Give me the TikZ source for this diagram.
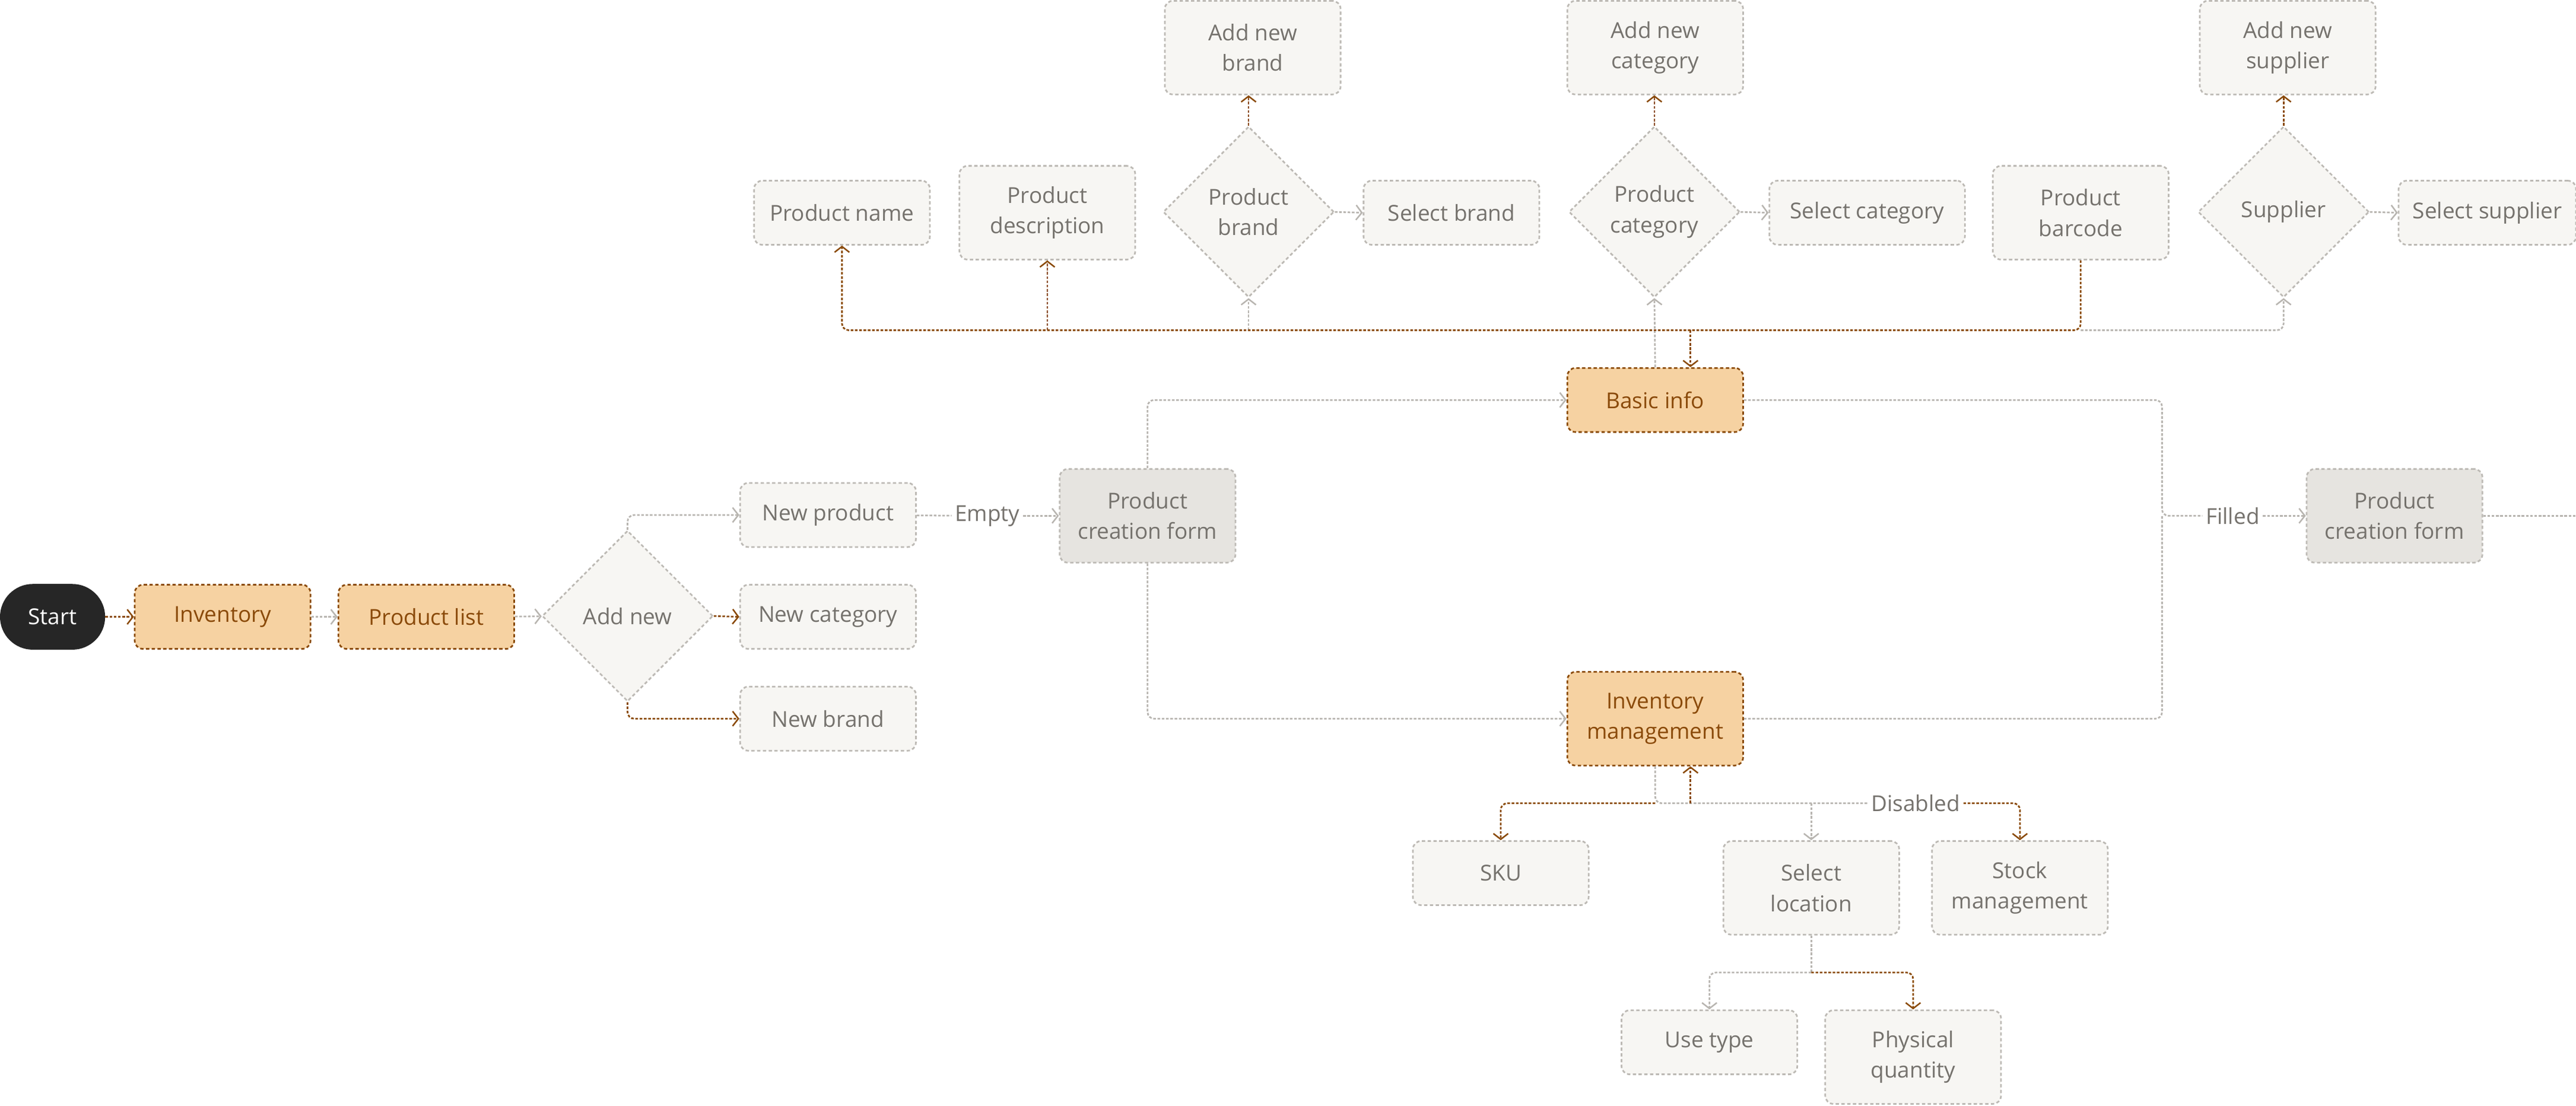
\documentclass[tikz,border=0pt]{standalone}
\usepackage{fontspec}
\setmainfont{Open Sans}
\usetikzlibrary{shapes.geometric,arrows.meta,calc}
\definecolor{bfill}{HTML}{F7F6F3}
\definecolor{bdraw}{HTML}{BDBAB5}
\definecolor{btext}{HTML}{75726D}
\definecolor{ofill}{HTML}{F6D2A2}
\definecolor{brn}{HTML}{8A4A0A}
\definecolor{gfill}{HTML}{E6E4E0}
\definecolor{gline}{HTML}{B8B5B0}
\begin{document}
\begin{tikzpicture}[x=1mm,y=-1mm,
  every node/.style={font=\fontsize{38}{53}\selectfont, align=center},
  box/.style={rectangle, rounded corners=5mm, fill=bfill, draw=bdraw, line width=1mm, dash pattern=on 2mm off 1.5mm, text=btext, minimum width=107mm, minimum height=39mm, inner sep=0},
  tall/.style={minimum height=57mm},
  obox/.style={box, fill=ofill, draw=brn, text=brn},
  gbox/.style={box, fill=gfill},
  dia/.style={diamond, aspect=1, minimum width=104mm, minimum height=104mm, inner sep=0, fill=bfill, draw=bdraw, line width=1mm, dash pattern=on 2mm off 1.5mm, text=btext},
  gry/.style={draw=gline, line width=1mm, dash pattern=on 1.6mm off 1mm, rounded corners=4mm, -{Straight Barb[length=3.5mm,width=9mm,line width=0.9mm]}},
  brw/.style={draw=brn, line width=1mm, dash pattern=on 1.6mm off 1mm, rounded corners=4mm, -{Straight Barb[length=3.5mm,width=9mm,line width=0.9mm]}},
  nt/.style={-},
  lbl/.style={fill=white, text=btext, inner sep=2mm}]
\useasboundingbox[fill=white] (0,0) rectangle (1568,673);
% left flow
\node[rectangle, rounded corners=20mm, fill=black!85, text=white, minimum width=64mm, minimum height=40mm, inner sep=0] (start) at (32,375.5) {Start};
\node[obox] (inv) at (135.5,375.5) {Inventory};
\node[obox] (plist) at (259.5,375.5) {Product list};
\node[dia] (addnew) at (382,375) {Add new};
\node[box] (newprod) at (504,313.5) {New product};
\node[box] (newcat) at (504,375.5) {New category};
\node[box] (newbrand) at (504,437.5) {New brand};
\node[gbox,tall] (pcf) at (698.5,314) {Product\\creation form};
\node[obox] (basic) at (1007.5,243.5) {Basic info};
\node[obox,tall] (invm) at (1007.5,437.5) {Inventory\\management};
\node[gbox,tall] (pcf2) at (1457.5,314) {Product\\creation form};
\coordinate (rend) at (1568,314);
% top row
\node[box] (pname) at (512.5,129.5) {Product name};
\node[box,tall] (pdesc) at (637.5,129.5) {Product\\description};
\node[dia] (pbrand) at (760,129) {Product\\brand};
\node[box] (selbrand) at (883.5,129.5) {Select brand};
\node[box,tall] (addbrand) at (762.5,29) {Add new\\brand};
\node[dia] (pcat) at (1007,129) {Product\\category};
\node[box,tall] (addcat) at (1007.5,29) {Add new\\category};
\node[box,minimum width=119mm] (selcat) at (1136.5,129.5) {Select category};
\node[box,tall] (barcode) at (1266.5,129.5) {Product\\barcode};
\node[dia] (supp) at (1390,129) {Supplier};
\node[box,tall] (addsupp) at (1392.5,29) {Add new\\supplier};
\node[box,minimum width=108mm] (selsupp) at (1514,129.5) {Select supplier};
% bottom
\node[box] (sku) at (913.5,531.5) {SKU};
\node[box,tall] (selloc) at (1102.5,540.5) {Select\\location};
\node[box,tall] (stock) at (1229.5,540.5) {Stock\\management};
\node[box] (usetype) at (1040.5,634.5) {Use type};
\node[box,tall] (physq) at (1164.5,643.5) {Physical\\quantity};
% left connectors
\draw[brw] (start) -- (inv);
\draw[gry] (inv) -- (plist);
\draw[gry] (plist) -- (addnew);
\draw[gry] (addnew.north) |- (newprod.west);
\draw[brw] (addnew.east) -- (newcat.west);
\draw[brw] (addnew.south) |- (newbrand.west);
\node[lbl] (empty) at (601,314) {Empty};
\draw[gry,nt] (newprod) -- (empty);
\draw[gry] (empty) -- (pcf);
\draw[gry] (pcf.north) |- (basic.west);
\draw[gry] (pcf.south) |- (invm.west);
\coordinate (rc) at (1316,314);
\node[lbl] (filled) at (1359,314) {Filled};
\draw[gry,nt] (basic.east) -| (rc) -- (filled.west);
\draw[gry,nt] (invm.east) -| (rc);
\draw[gry] (filled) -- (pcf2);
\draw[gry,nt] (pcf2.east) -- (rend);
% top connectors
\coordinate (bb) at (1029,201);
\draw[gry] (pbrand.south |- bb) -- (pbrand.south);
\draw[gry] (barcode.south |- bb) -| (supp.south);
\draw[gry] (basic.north) -- (pcat.south);
\draw[brw,nt] (barcode.south) |- (bb);
\draw[brw] (bb) -- (bb |- basic.north);
\draw[brw] (bb) -| (pname.south);
\draw[brw] (pdesc.south |- bb) -- (pdesc.south);
\draw[brw] (pbrand.north) -- (pbrand.north |- addbrand.south);
\draw[brw] (pcat.north) -- (pcat.north |- addcat.south);
\draw[brw] (supp.north) -- (supp.north |- addsupp.south);
\draw[gry] (pbrand.east) -- (selbrand.west);
\draw[gry] (pcat.east) -- (selcat.west);
\draw[gry] (supp.east) -- (selsupp.west);
% bottom connectors
\coordinate (ib) at (1029,489);
\node[lbl] (dis) at (1166,489) {Disabled};
\draw[gry,nt] (invm.south) -- (invm.south |- ib) -- (dis.west);
\draw[gry] (selloc.north |- ib) -- (selloc.north);
\draw[brw] (invm.south |- ib) -| (sku.north);
\draw[brw] (ib) -- (ib |- invm.south);
\draw[brw] (dis.east) -| (stock.north);
\coordinate (lb) at (1102.5,592);
\draw[gry,nt] (selloc.south) -- (lb);
\draw[gry] (lb) -| (usetype.north);
\draw[brw] (lb) -| (physq.north);
\end{tikzpicture}
\end{document}
